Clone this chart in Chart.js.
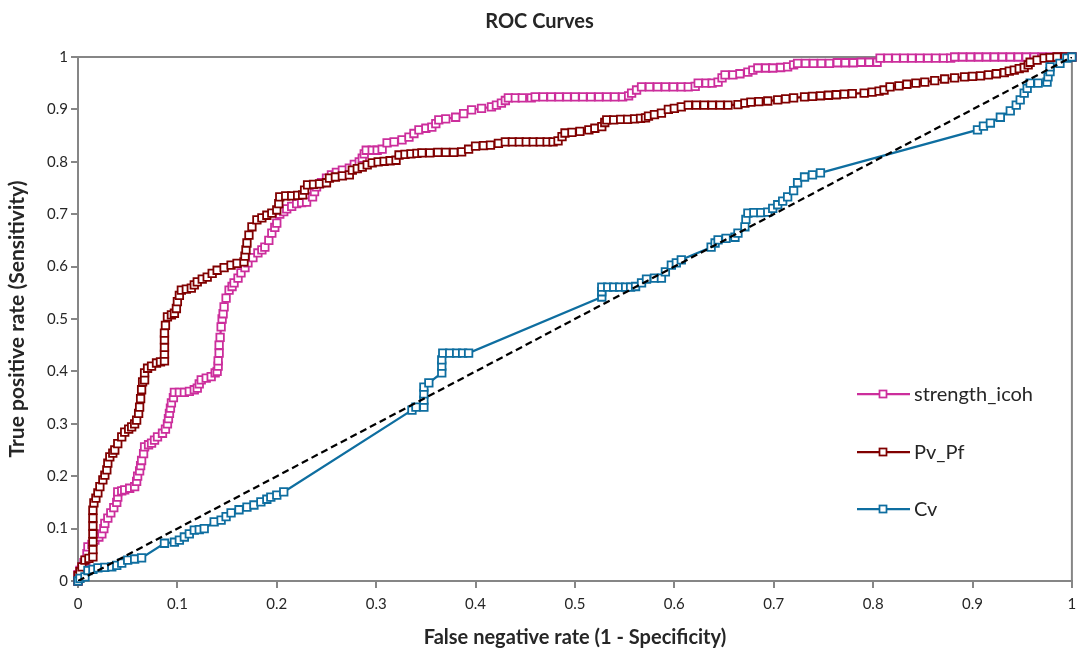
<!DOCTYPE html>
<html>
<head>
<meta charset="utf-8">
<script src="https://cdn.jsdelivr.net/npm/chart.js@4.4.1/dist/chart.umd.min.js"></script>
<style>
  html, body { margin: 0; padding: 0; background: #fff; }
</style>
</head>
<body>
<canvas id="roc" width="1079" height="652"></canvas>
<script>
// series names and colours
const seriesNames = ["strength_icoh", "Pv_Pf", "Cv"];
const seriesColors = ["#CC2E9C", "#800000", "#0E6EA0"];

// axis ticks
const xTickValues = [0, 0.1, 0.2, 0.3, 0.4, 0.5, 0.6, 0.7, 0.8, 0.9, 1];
const yTickValues = [0, 0.1, 0.2, 0.3, 0.4, 0.5, 0.6, 0.7, 0.8, 0.9, 1];

// [1 - specificity, sensitivity]
const icohPoints = [
  [0,0],[0,0.012],[0.002,0.02],[0.004,0.027],[0.006,0.035],[0.008,0.04],[0.009,0.052],[0.01,0.065],[0.014,0.07],[0.017,0.078],
  [0.021,0.084],[0.024,0.09],[0.026,0.1],[0.027,0.11],[0.03,0.12],[0.033,0.13],[0.036,0.14],[0.039,0.15],[0.04,0.16],[0.04,0.17],
  [0.044,0.172],[0.047,0.174],[0.052,0.177],[0.057,0.18],[0.059,0.19],[0.06,0.2],[0.062,0.21],[0.063,0.22],[0.064,0.23],[0.066,0.243],
  [0.067,0.256],[0.071,0.26],[0.074,0.263],[0.077,0.269],[0.08,0.275],[0.085,0.282],[0.088,0.29],[0.09,0.3],[0.091,0.31],[0.092,0.32],
  [0.093,0.33],[0.094,0.34],[0.096,0.35],[0.097,0.36],[0.102,0.36],[0.107,0.36],[0.112,0.362],[0.117,0.365],[0.12,0.368],[0.122,0.376],
  [0.124,0.384],[0.129,0.387],[0.134,0.39],[0.138,0.397],[0.14,0.4],[0.141,0.41],[0.141,0.42],[0.142,0.435],[0.142,0.45],[0.143,0.465],
  [0.144,0.485],[0.145,0.5],[0.146,0.51],[0.147,0.523],[0.149,0.54],[0.152,0.555],[0.155,0.562],[0.157,0.569],[0.161,0.578],[0.164,0.588],
  [0.168,0.598],[0.171,0.607],[0.176,0.617],[0.181,0.626],[0.185,0.632],[0.188,0.637],[0.192,0.65],[0.195,0.664],[0.198,0.675],[0.2,0.683],
  [0.203,0.7],[0.207,0.705],[0.21,0.71],[0.215,0.715],[0.22,0.72],[0.225,0.722],[0.23,0.723],[0.236,0.733],[0.238,0.743],[0.24,0.752],
  [0.245,0.76],[0.25,0.769],[0.255,0.775],[0.26,0.78],[0.266,0.784],[0.273,0.788],[0.278,0.795],[0.283,0.8],[0.286,0.807],[0.288,0.815],
  [0.29,0.822],[0.296,0.822],[0.301,0.822],[0.306,0.824],[0.311,0.836],[0.318,0.838],[0.326,0.842],[0.333,0.847],[0.338,0.854],[0.343,0.861],
  [0.35,0.864],[0.356,0.866],[0.36,0.873],[0.363,0.88],[0.37,0.882],[0.38,0.885],[0.388,0.892],[0.396,0.899],[0.406,0.902],[0.416,0.905],
  [0.421,0.908],[0.426,0.912],[0.43,0.917],[0.433,0.922],[0.44,0.922],[0.447,0.922],[0.456,0.922],[0.46,0.924],[0.468,0.924],[0.476,0.924],
  [0.484,0.924],[0.492,0.924],[0.5,0.924],[0.508,0.924],[0.516,0.924],[0.524,0.924],[0.532,0.924],[0.54,0.924],[0.548,0.924],[0.554,0.926],
  [0.557,0.931],[0.562,0.937],[0.567,0.943],[0.575,0.943],[0.583,0.943],[0.591,0.943],[0.599,0.943],[0.607,0.943],[0.614,0.943],[0.621,0.944],
  [0.624,0.95],[0.632,0.95],[0.638,0.95],[0.644,0.952],[0.648,0.96],[0.651,0.966],[0.659,0.966],[0.666,0.968],[0.674,0.971],[0.679,0.975],
  [0.684,0.979],[0.692,0.979],[0.699,0.979],[0.707,0.98],[0.714,0.981],[0.72,0.985],[0.724,0.988],[0.732,0.988],[0.74,0.988],[0.748,0.988],
  [0.756,0.988],[0.764,0.989],[0.772,0.989],[0.78,0.989],[0.788,0.99],[0.796,0.99],[0.804,0.99],[0.807,0.998],[0.815,0.998],[0.823,0.998],
  [0.831,0.998],[0.839,0.998],[0.847,0.998],[0.855,0.998],[0.863,0.998],[0.871,0.998],[0.878,0.998],[0.882,1],[0.89,1],[0.898,1],
  [0.906,1],[0.914,1],[0.922,1],[0.93,1],[0.938,1],[0.946,1],[0.954,1],[0.962,1],[0.97,1],[0.978,1],[0.986,1],[0.994,1],[1,1]
];

const pvPfPoints = [
  [0,0],[0,0.01],[0.002,0.018],[0.004,0.027],[0.007,0.04],[0.011,0.043],[0.015,0.046],[0.015,0.06],[0.015,0.075],[0.015,0.09],
  [0.015,0.105],[0.015,0.12],[0.015,0.135],[0.016,0.149],[0.018,0.158],[0.02,0.168],[0.022,0.18],[0.025,0.193],[0.027,0.202],[0.029,0.212],
  [0.03,0.225],[0.032,0.237],[0.035,0.244],[0.037,0.25],[0.04,0.262],[0.044,0.275],[0.047,0.284],[0.051,0.29],[0.054,0.294],[0.057,0.3],
  [0.059,0.307],[0.061,0.32],[0.062,0.332],[0.063,0.348],[0.064,0.365],[0.065,0.38],[0.067,0.384],[0.067,0.397],[0.07,0.406],[0.074,0.41],
  [0.079,0.416],[0.083,0.418],[0.087,0.42],[0.087,0.433],[0.087,0.446],[0.087,0.46],[0.087,0.473],[0.088,0.488],[0.09,0.504],[0.094,0.508],
  [0.097,0.511],[0.099,0.52],[0.1,0.533],[0.102,0.545],[0.104,0.555],[0.109,0.557],[0.114,0.559],[0.117,0.565],[0.12,0.571],[0.125,0.576],
  [0.13,0.58],[0.135,0.587],[0.14,0.593],[0.147,0.598],[0.154,0.603],[0.16,0.606],[0.167,0.609],[0.168,0.62],[0.169,0.632],[0.17,0.645],
  [0.172,0.66],[0.175,0.676],[0.18,0.689],[0.185,0.693],[0.19,0.698],[0.195,0.702],[0.2,0.708],[0.202,0.72],[0.203,0.733],[0.209,0.735],
  [0.215,0.735],[0.221,0.736],[0.226,0.737],[0.228,0.746],[0.231,0.756],[0.237,0.757],[0.243,0.758],[0.25,0.76],[0.253,0.769],[0.259,0.771],
  [0.266,0.773],[0.273,0.775],[0.276,0.784],[0.281,0.787],[0.286,0.79],[0.291,0.794],[0.296,0.798],[0.302,0.8],[0.308,0.801],[0.314,0.802],
  [0.32,0.803],[0.323,0.813],[0.329,0.814],[0.335,0.815],[0.341,0.816],[0.346,0.817],[0.354,0.817],[0.362,0.818],[0.37,0.818],[0.378,0.818],
  [0.386,0.819],[0.393,0.824],[0.4,0.83],[0.408,0.831],[0.415,0.832],[0.423,0.835],[0.43,0.838],[0.437,0.838],[0.444,0.838],[0.451,0.838],
  [0.458,0.838],[0.465,0.838],[0.472,0.838],[0.478,0.838],[0.483,0.84],[0.487,0.848],[0.49,0.855],[0.497,0.856],[0.505,0.858],[0.514,0.861],
  [0.52,0.864],[0.527,0.867],[0.53,0.875],[0.532,0.88],[0.539,0.88],[0.546,0.881],[0.553,0.881],[0.56,0.882],[0.566,0.883],[0.571,0.884],
  [0.574,0.887],[0.58,0.89],[0.587,0.893],[0.594,0.9],[0.6,0.902],[0.607,0.905],[0.614,0.908],[0.622,0.908],[0.63,0.908],[0.638,0.908],
  [0.646,0.908],[0.654,0.908],[0.664,0.909],[0.671,0.912],[0.677,0.914],[0.685,0.915],[0.694,0.916],[0.704,0.918],[0.712,0.92],[0.72,0.922],
  [0.731,0.924],[0.739,0.925],[0.747,0.926],[0.755,0.927],[0.763,0.928],[0.771,0.929],[0.779,0.93],[0.791,0.931],[0.799,0.933],[0.806,0.935],
  [0.811,0.937],[0.817,0.943],[0.826,0.945],[0.834,0.948],[0.843,0.95],[0.852,0.952],[0.862,0.955],[0.872,0.958],[0.882,0.96],[0.892,0.962],
  [0.9,0.963],[0.908,0.964],[0.916,0.966],[0.924,0.968],[0.932,0.97],[0.937,0.973],[0.942,0.975],[0.947,0.978],[0.952,0.98],[0.956,0.985],
  [0.958,0.99],[0.965,0.994],[0.972,0.998],[0.978,0.999],[0.985,1],[0.993,1],[1,1]
];

const cvPoints = [
  [0,0],[0.002,0.005],[0.007,0.008],[0.01,0.02],[0.015,0.022],[0.02,0.025],[0.027,0.026],[0.034,0.027],[0.039,0.03],[0.044,0.034],
  [0.05,0.04],[0.057,0.042],[0.064,0.044],[0.087,0.072],[0.097,0.074],[0.102,0.078],[0.107,0.084],[0.112,0.09],[0.117,0.097],[0.122,0.098],
  [0.127,0.1],[0.137,0.113],[0.144,0.116],[0.149,0.123],[0.154,0.13],[0.162,0.136],[0.17,0.141],[0.177,0.145],[0.184,0.151],[0.19,0.156],
  [0.194,0.16],[0.2,0.164],[0.207,0.17],[0.336,0.326],[0.34,0.332],[0.348,0.332],[0.348,0.345],[0.348,0.357],[0.348,0.37],[0.353,0.378],
  [0.366,0.397],[0.366,0.41],[0.366,0.422],[0.367,0.435],[0.374,0.435],[0.381,0.435],[0.387,0.435],[0.393,0.435],[0.527,0.542],[0.527,0.552],
  [0.527,0.561],[0.533,0.561],[0.539,0.561],[0.545,0.561],[0.551,0.561],[0.556,0.561],[0.561,0.562],[0.567,0.569],[0.572,0.576],[0.58,0.578],
  [0.587,0.578],[0.591,0.59],[0.597,0.603],[0.602,0.607],[0.607,0.613],[0.637,0.637],[0.641,0.645],[0.644,0.651],[0.652,0.654],[0.661,0.656],
  [0.664,0.664],[0.671,0.676],[0.672,0.69],[0.674,0.702],[0.68,0.703],[0.687,0.703],[0.694,0.704],[0.699,0.711],[0.704,0.718],[0.709,0.725],
  [0.714,0.733],[0.72,0.745],[0.724,0.76],[0.731,0.771],[0.739,0.775],[0.747,0.779],[0.905,0.861],[0.911,0.868],[0.918,0.874],[0.928,0.885],
  [0.938,0.897],[0.944,0.908],[0.948,0.918],[0.952,0.931],[0.955,0.94],[0.958,0.95],[0.966,0.95],[0.975,0.952],[0.976,0.962],[0.978,0.972],
  [0.978,0.981],[0.988,0.988],[0.995,0.998],[1,1]
];

// reference diagonal
const chancePoints = [[0,0],[1,1]];

const axisGray = "#868686";
const textColor = "#262626";
const fontFamily = "Lato, 'Open Sans', sans-serif";

function toXY(points) {
  return points.map(p => ({ x: p[0], y: p[1] }));
}

function fmtTick(v) {
  return String(Math.round(v * 10) / 10);
}

function rocDataset(i, points) {
  return {
    label: seriesNames[i],
    data: toXY(points),
    showLine: true,
    borderColor: seriesColors[i],
    borderWidth: 2.25,
    pointStyle: "rect",
    pointRadius: 5.3,
    pointBorderWidth: 1.8,
    pointBorderColor: seriesColors[i],
    pointBackgroundColor: "#fff",
    clip: false,
    order: 3 - i
  };
}

// top and right edges of the plot area
const framePlugin = {
  id: "frame",
  beforeDatasetsDraw(chart) {
    const { ctx, chartArea: a } = chart;
    ctx.save();
    ctx.strokeStyle = axisGray;
    ctx.lineWidth = 2;
    ctx.beginPath();
    ctx.moveTo(a.left, a.top);
    ctx.lineTo(a.right, a.top);
    ctx.lineTo(a.right, a.bottom);
    ctx.stroke();
    ctx.restore();
  }
};

// legend sits inside the plot, right side
const insideLegend = {
  id: "insideLegend",
  afterDraw(chart) {
    const ctx = chart.ctx;
    const rows = [394, 452, 509];
    ctx.save();
    ctx.font = "20px " + fontFamily;
    ctx.textBaseline = "middle";
    seriesNames.forEach((name, i) => {
      const y = rows[i];
      ctx.strokeStyle = seriesColors[i];
      ctx.lineWidth = 2.25;
      ctx.beginPath();
      ctx.moveTo(857, y);
      ctx.lineTo(910, y);
      ctx.stroke();
      ctx.fillStyle = "#fff";
      ctx.lineWidth = 1.75;
      ctx.fillRect(879.5, y - 3.5, 7, 7);
      ctx.strokeRect(879.5, y - 3.5, 7, 7);
      ctx.fillStyle = textColor;
      ctx.fillText(name, 914, y + 1);
    });
    ctx.restore();
  }
};

function axisOptions(title, ticks, isX) {
  return {
    type: "linear",
    min: 0,
    max: 1,
    afterBuildTicks: scale => { scale.ticks = ticks.map(v => ({ value: v })); },
    afterFit: scale => {
      if (isX) {
        scale.height = 71;
        scale.paddingLeft = 0;
        scale.paddingRight = 1;
      } else {
        scale.width = 78;
      }
    },
    ticks: {
      callback: fmtTick,
      color: textColor,
      font: { family: fontFamily, size: 15 },
      padding: isX ? 7 : 3,
      autoSkip: false,
      maxRotation: 0
    },
    grid: {
      display: true,
      drawOnChartArea: false,
      drawTicks: true,
      tickLength: 7,
      color: axisGray,
      lineWidth: 2
    },
    border: { display: true, color: axisGray, width: 2 },
    title: {
      display: true,
      text: title,
      color: textColor,
      font: { family: fontFamily, size: isX ? 20 : 21, weight: "bold" },
      padding: isX ? { top: 4, bottom: 2 } : { top: 5, bottom: 4 }
    }
  };
}

new Chart(document.getElementById("roc"), {
  type: "scatter",
  data: {
    datasets: [
      {
        label: "chance",
        data: toXY(chancePoints),
        showLine: true,
        borderColor: "#000",
        borderWidth: 2.25,
        borderDash: [7, 4],
        pointRadius: 0,
        order: 0
      },
      rocDataset(0, icohPoints),
      rocDataset(1, pvPfPoints),
      rocDataset(2, cvPoints)
    ]
  },
  options: {
    responsive: false,
    animation: false,
    devicePixelRatio: 1,
    layout: { padding: { left: 0, right: 0, top: 0, bottom: 0 } },
    scales: {
      x: axisOptions("False negative rate (1 - Specificity)", xTickValues, true),
      y: axisOptions("True positive rate (Sensitivity)", yTickValues, false)
    },
    plugins: {
      legend: { display: false },
      tooltip: { enabled: false },
      title: {
        display: true,
        text: "ROC Curves",
        color: textColor,
        font: { family: fontFamily, size: 20, weight: "bold" },
        padding: { top: 10, bottom: 23 }
      }
    }
  },
  plugins: [framePlugin, insideLegend]
});
</script>
</body>
</html>
